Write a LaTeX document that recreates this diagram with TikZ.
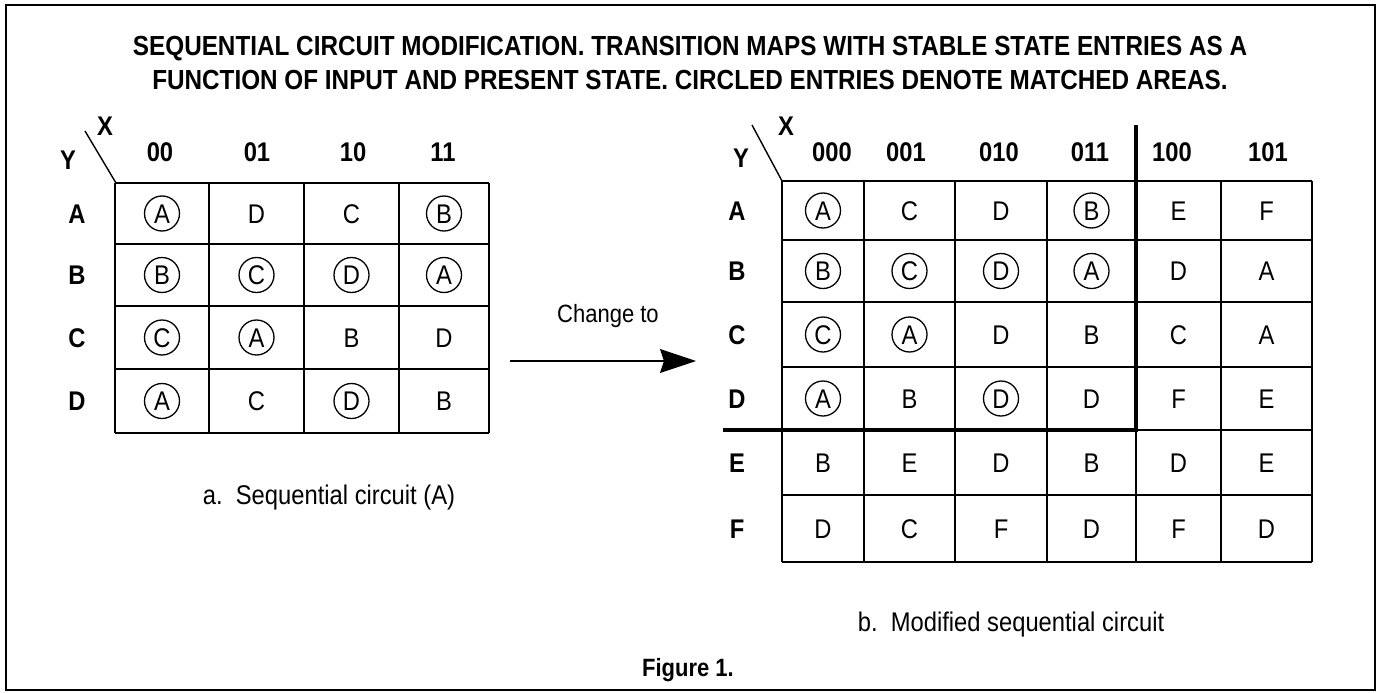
\documentclass[tikz,border=0pt]{standalone}
\usepackage{fontspec}
\setmainfont{Liberation Sans}
\newfontfamily\condfont[FakeStretch=0.88]{Liberation Sans}
\usetikzlibrary{arrows.meta}
\begin{document}
\begin{tikzpicture}[x=1pt,y=-1pt,
  gridline/.style={line width=1.4pt},
  heavy/.style={line width=4pt},
  frameline/.style={line width=1.8pt},
  entry/.style={font=\condfont\fontsize{27}{29}\selectfont, inner sep=0pt, text height=19pt, text depth=0pt},
  circ/.style={entry, draw, circle, minimum size=35pt, line width=1.3pt},
  lab/.style={font=\condfont\bfseries\fontsize{27}{29}\selectfont, inner sep=0pt, text height=19pt, text depth=0pt},
  titletext/.style={font=\condfont\bfseries\fontsize{27.6}{29}\selectfont, inner sep=0pt, text height=20pt, text depth=0pt},
  captext/.style={font=\condfont\fontsize{27}{30}\selectfont, inner sep=0pt, text height=19pt, text depth=0pt},
  figtext/.style={font=\condfont\bfseries\fontsize{25}{27}\selectfont, inner sep=0pt, text height=18pt, text depth=0pt},
  arrowline/.style={line width=1.3pt, -{Stealth[length=36pt,width=24pt,inset=4pt]}}
]
\useasboundingbox (0,0) rectangle (1381,693);
\draw[frameline] (6,5) rectangle (1375,690);

% title
\node[titletext] (t1) at (690,46) {SEQUENTIAL CIRCUIT MODIFICATION. TRANSITION MAPS WITH STABLE STATE ENTRIES AS A};
\node[titletext] (t2) at (690,79) {FUNCTION OF INPUT AND PRESENT STATE. CIRCLED ENTRIES DENOTE MATCHED AREAS.};

% ---------- left map ----------
\foreach \x in {115,209,304,399,489} \draw[gridline] (\x,183) -- (\x,433);
\foreach \y in {183,244,306,369,433} \draw[gridline] (115,\y) -- (489,\y);
\coordinate (Lcorner) at (116,183);
\coordinate (Ltip) at (85,131);
\draw[gridline] (Lcorner) -- (Ltip);
\node[lab] (LX) at (105,126) {X};
\node[lab] (LY) at (68,160) {Y};
\node[lab] (Lc1) at (160,152) {00};
\node[lab] (Lc2) at (257,152) {01};
\node[lab] (Lc3) at (353,152) {10};
\node[lab] (Lc4) at (443,152) {11};
\node[lab] (Lr1) at (77,213.5) {A};
\node[lab] (Lr2) at (77,275) {B};
\node[lab] (Lr3) at (77,337.5) {C};
\node[lab] (Lr4) at (77,401) {D};

\node[circ]  (L11) at (162,213.5) {A};
\node[entry] (L12) at (256.5,213.5) {D};
\node[entry] (L13) at (351.5,213.5) {C};
\node[circ]  (L14) at (444,213.5) {B};
\node[circ]  (L21) at (162,275) {B};
\node[circ]  (L22) at (256.5,275) {C};
\node[circ]  (L23) at (351.5,275) {D};
\node[circ]  (L24) at (444,275) {A};
\node[circ]  (L31) at (162,337.5) {C};
\node[circ]  (L32) at (256.5,337.5) {A};
\node[entry] (L33) at (351.5,337.5) {B};
\node[entry] (L34) at (444,337.5) {D};
\node[circ]  (L41) at (162,401) {A};
\node[entry] (L42) at (256.5,401) {C};
\node[circ]  (L43) at (351.5,401) {D};
\node[entry] (L44) at (444,401) {B};

\node[captext] (capA) at (329,495) {a.\ \ Sequential circuit (A)};

% ---------- arrow ----------
\node[captext, font=\condfont\fontsize{25}{28}\selectfont] (chg) at (608,313) {Change to};
\coordinate (arrS) at (510,361);
\coordinate (arrE) at (696,361);
\draw[arrowline] (arrS) -- (arrE);

% ---------- right map ----------
\foreach \x in {782,864,955,1047,1221,1312} \draw[gridline] (\x,181) -- (\x,562);
\draw[gridline] (1136,430) -- (1136,562);
\foreach \y in {181,240,302,367,495,562} \draw[gridline] (782,\y) -- (1312,\y);
\draw[gridline] (1136,430) -- (1312,430);
\draw[heavy] (1136,125) -- (1136,432);
\draw[heavy] (723,430) -- (1138,430);
\coordinate (Rcorner) at (782,181);
\coordinate (Rtip) at (752,125);
\draw[gridline] (Rcorner) -- (Rtip);
\node[lab] (RX) at (786,126) {X};
\node[lab] (RY) at (741,158) {Y};
\node[lab] (Rc1) at (832,152) {000};
\node[lab] (Rc2) at (906,152) {001};
\node[lab] (Rc3) at (999,152) {010};
\node[lab] (Rc4) at (1090,152) {011};
\node[lab] (Rc5) at (1172,152) {100};
\node[lab] (Rc6) at (1268,152) {101};
\node[lab] (Rr1) at (737,210.5) {A};
\node[lab] (Rr2) at (737,271) {B};
\node[lab] (Rr3) at (737,334.5) {C};
\node[lab] (Rr4) at (737,398.5) {D};
\node[lab] (Rr5) at (737,462.5) {E};
\node[lab] (Rr6) at (737,528.5) {F};

% row A
\node[circ]  (R11) at (823,210.5) {A};
\node[entry] (R12) at (909.5,210.5) {C};
\node[entry] (R13) at (1001,210.5) {D};
\node[circ]  (R14) at (1091.5,210.5) {B};
\node[entry] (R15) at (1178.5,210.5) {E};
\node[entry] (R16) at (1266.5,210.5) {F};
% row B
\node[circ]  (R21) at (823,271) {B};
\node[circ]  (R22) at (909.5,271) {C};
\node[circ]  (R23) at (1001,271) {D};
\node[circ]  (R24) at (1091.5,271) {A};
\node[entry] (R25) at (1178.5,271) {D};
\node[entry] (R26) at (1266.5,271) {A};
% row C
\node[circ]  (R31) at (823,334.5) {C};
\node[circ]  (R32) at (909.5,334.5) {A};
\node[entry] (R33) at (1001,334.5) {D};
\node[entry] (R34) at (1091.5,334.5) {B};
\node[entry] (R35) at (1178.5,334.5) {C};
\node[entry] (R36) at (1266.5,334.5) {A};
% row D
\node[circ]  (R41) at (823,398.5) {A};
\node[entry] (R42) at (909.5,398.5) {B};
\node[circ]  (R43) at (1001,398.5) {D};
\node[entry] (R44) at (1091.5,398.5) {D};
\node[entry] (R45) at (1178.5,398.5) {F};
\node[entry] (R46) at (1266.5,398.5) {E};
% row E
\node[entry] (R51) at (823,462.5) {B};
\node[entry] (R52) at (909.5,462.5) {E};
\node[entry] (R53) at (1001,462.5) {D};
\node[entry] (R54) at (1091.5,462.5) {B};
\node[entry] (R55) at (1178.5,462.5) {D};
\node[entry] (R56) at (1266.5,462.5) {E};
% row F
\node[entry] (R61) at (823,528.5) {D};
\node[entry] (R62) at (909.5,528.5) {C};
\node[entry] (R63) at (1001,528.5) {F};
\node[entry] (R64) at (1091.5,528.5) {D};
\node[entry] (R65) at (1178.5,528.5) {F};
\node[entry] (R66) at (1266.5,528.5) {D};

\node[captext] (capB) at (1011,622) {b.\ \ Modified sequential circuit};
\node[figtext] (fig) at (688,667) {Figure 1.};
\end{tikzpicture}
\end{document}
